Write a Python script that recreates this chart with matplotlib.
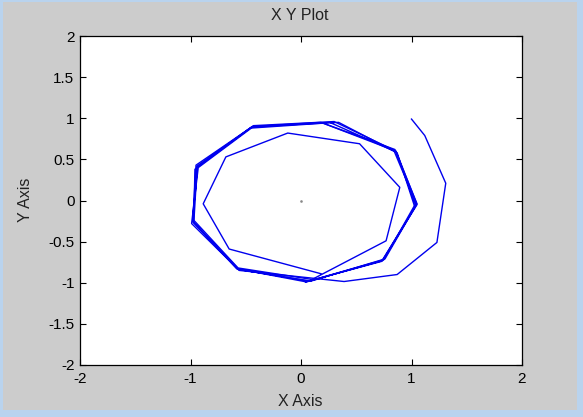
import matplotlib
matplotlib.use("Agg")
import matplotlib.pyplot as plt
from matplotlib.patches import Rectangle

plt.rcParams['font.family'] = ['Liberation Sans', 'DejaVu Sans']

# Trajectory starting outside the limit cycle (clockwise spiral in)
outer_x = [1.00, 1.12, 1.31, 1.23, 0.87, 0.39, -0.56, -0.99, -0.93, -0.43, 0.18, 0.85,
           1.05, 0.74, 0.05, -0.58, -0.98, -0.95, -0.45, 0.26, 0.86, 1.04, 0.76, 0.09,
           -0.56, -0.97, -0.94, -0.44, 0.34, 0.87, 1.03, 0.73, 0.04]
outer_y = [0.99, 0.79, 0.21, -0.51, -0.90, -0.985, -0.85, -0.28, 0.40, 0.90, 0.95, 0.62,
           -0.04, -0.73, -0.99, -0.83, -0.25, 0.43, 0.89, 0.95, 0.59, -0.06, -0.71, -0.98,
           -0.84, -0.27, 0.41, 0.90, 0.95, 0.58, -0.08, -0.74, -0.99]

# Trajectory starting inside the limit cycle (clockwise spiral out)
inner_x = [0.18, -0.65, -0.885, -0.68, -0.12, 0.53, 0.894, 0.77, 0.10, -0.57, -0.97,
           -0.96, -0.46, 0.20, 0.84, 1.04, 0.75, 0.07, -0.58, -0.98, -0.94, -0.43, 0.30,
           0.86, 1.05, 0.74]
inner_y = [-0.89, -0.59, -0.04, 0.53, 0.82, 0.69, 0.16, -0.49, -0.96, -0.82, -0.24,
           0.38, 0.88, 0.94, 0.61, -0.03, -0.72, -0.98, -0.83, -0.26, 0.42, 0.91, 0.96,
           0.60, -0.05, -0.72]

# Equilibrium point
eq_x = [0.0]
eq_y = [0.0]

ticks = [-2, -1.5, -1, -0.5, 0, 0.5, 1, 1.5, 2]
xticks = [-2, -1, 0, 1, 2]

W, H = 583, 417
fig = plt.figure(figsize=(W / 100, H / 100), dpi=100)
fig.patch.set_facecolor('#b9d3ee')
# gray panel inside the light blue border
panel = Rectangle((3 / W, 7 / H), (577 - 3) / W, (415 - 7) / H,
                  transform=fig.transFigure, facecolor='#cccccc',
                  edgecolor='none', zorder=-10)
fig.add_artist(panel)

ax = fig.add_axes([80 / W, 1 - 365 / H, (522 - 80) / W, (365 - 36) / H])
ax.set_zorder(1)
ax.set_facecolor('white')
ax.plot(outer_x, outer_y, color='#0000ee', lw=1.0)
ax.plot(inner_x, inner_y, color='#0000ee', lw=1.0)
ax.plot(eq_x, eq_y, marker='s', ms=0.8, color='#888888', lw=0)

ax.set_xlim(-2, 2)
ax.set_ylim(-2, 2)
ax.set_xticks(xticks)
ax.set_yticks(ticks)
ax.set_xticklabels([f'{t:g}' for t in xticks])
ax.set_yticklabels([f'{t:g}' for t in ticks])
ax.tick_params(direction='in', top=True, right=True, length=4, width=0.8,
               labelsize=11, colors='black')
ax.tick_params(axis='x', pad=5)
ax.tick_params(axis='y', pad=4)
for s in ax.spines.values():
    s.set_linewidth(0.9)
    s.set_color('black')

fig.text(300 / W, 1 - 15 / H, 'X Y Plot', fontsize=11.5, color='#222222',
         ha='center', va='center')
fig.text(300 / W, 1 - 402 / H, 'X Axis', fontsize=11.5, color='#222222',
         ha='center', va='center')
fig.text(25 / W, 1 - 200 / H, 'Y Axis', fontsize=11.5, color='#222222',
         ha='center', va='center', rotation=90)

fig.savefig('out.png', dpi=100, facecolor=fig.get_facecolor())
